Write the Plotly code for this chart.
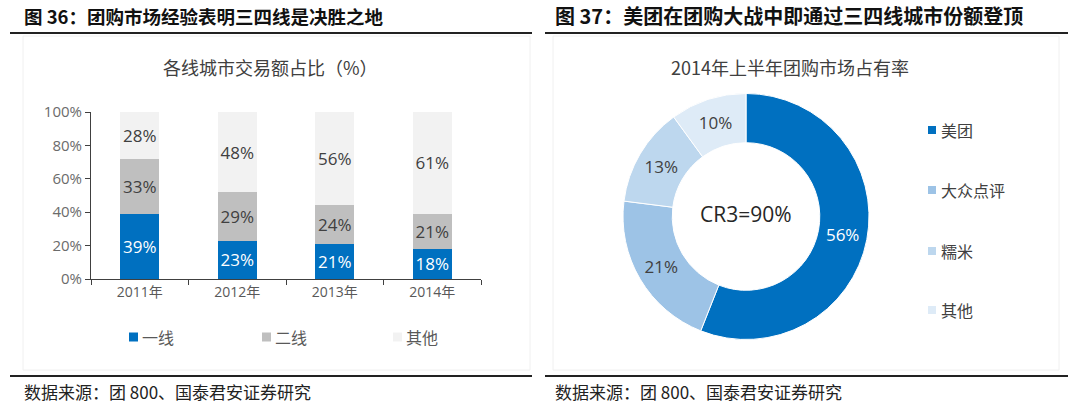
import plotly.graph_objects as go

# ---- data ----
years = ["2011年", "2012年", "2013年", "2014年"]
tier1 = [39, 23, 21, 18]
tier2 = [33, 29, 24, 21]
others = [28, 48, 56, 61]
bar_names = ["一线", "二线", "其他"]
bar_colors = ["#0070C0", "#BFBFBF", "#F2F2F2"]
bar_text_colors = ["#FFFFFF", "#404040", "#404040"]

pie_labels = ["美团", "大众点评", "糯米", "其他"]
pie_values = [56, 21, 13, 10]
pie_colors = ["#0070C0", "#9DC3E6", "#BDD7EE", "#DEEBF7"]
pie_text_colors = ["#FFFFFF", "#404040", "#404040", "#404040"]

title_left = "图 36：团购市场经验表明三四线是决胜之地"
title_right = "图 37：美团在团购大战中即通过三四线城市份额登顶"
sub_left = "各线城市交易额占比（%）"
sub_right = "2014年上半年团购市场占有率"
center_text = "CR3=90%"
source = "数据来源：团 800、国泰君安证券研究"

W, H = 1080, 414
FONT = "Open Sans, Noto Sans CJK SC"
CJK = "Noto Sans CJK SC"

def px(x):
    return x / W

def py(y):
    return 1 - y / H

fig = go.Figure()

for name, vals, col, tcol in zip(bar_names, [tier1, tier2, others], bar_colors, bar_text_colors):
    fig.add_trace(go.Bar(
        x=years, y=vals, name=name, marker=dict(color=col, line=dict(width=0)),
        text=[f"{v}%" for v in vals], textposition="inside", insidetextanchor="middle",
        textangle=0, constraintext="none",
        textfont=dict(color=tcol, size=17, family=FONT), width=0.4,
        showlegend=False, xaxis="x", yaxis="y", cliponaxis=False,
    ))

fig.add_trace(go.Pie(
    labels=pie_labels, values=pie_values, hole=0.6, sort=False, direction="clockwise",
    marker=dict(colors=pie_colors, line=dict(color="white", width=1)),
    texttemplate="%{value}%", textposition="inside", insidetextorientation="horizontal",
    textfont=dict(color=pie_text_colors, size=17, family=FONT),
    domain=dict(x=[px(623), px(869)], y=[py(340), py(93)]),
    showlegend=False, automargin=False,
))

fig.update_layout(
    template="none",
    width=W, height=H, margin=dict(l=0, r=0, t=0, b=0, pad=0, autoexpand=False),
    paper_bgcolor="white", plot_bgcolor="white", showlegend=False,
    barmode="stack", barnorm="percent",
    font=dict(family=FONT, color="#595959"),
    xaxis=dict(domain=[px(91), px(481)], type="category", showline=True, linecolor="#404040",
               linewidth=1, ticks="outside", tickson="boundaries", ticklen=5, tickcolor="#404040",
               tickfont=dict(size=14, color="#595959", family=FONT), showgrid=False,
               automargin=False, zeroline=False),
    yaxis=dict(domain=[py(279), py(112)], range=[0, 100], dtick=20, ticksuffix="%",
               showline=True, linecolor="#404040", linewidth=1, ticks="outside", ticklen=5,
               tickcolor="#404040", tickfont=dict(size=15, color="#6b6b6b", family=FONT),
               showgrid=False, zeroline=False, automargin=False),
)

shapes = []
annotations = []
# panel boxes (faint)
shapes.append(dict(type="rect", xref="paper", yref="paper", x0=px(23), x1=px(530), y0=py(370), y1=py(36),
                   line=dict(color="#F0F0F0", width=1)))
shapes.append(dict(type="rect", xref="paper", yref="paper", x0=px(553), x1=px(1059), y0=py(370), y1=py(36),
                   line=dict(color="#F0F0F0", width=1)))
# rules
for x0, x1 in [(10, 532), (545, 1068)]:
    for y in (33, 376):
        shapes.append(dict(type="line", xref="paper", yref="paper", x0=px(x0), x1=px(x1), y0=py(y), y1=py(y),
                           line=dict(color="#222222", width=2)))

# titles
annotations.append(dict(text=f"<b>{title_left}</b>", x=px(22), y=py(16), xref="paper", yref="paper",
                        xanchor="left", yanchor="middle", showarrow=False,
                        font=dict(family=CJK, size=18.5, color="#111111")))
annotations.append(dict(text=f"<b>{title_right}</b>", x=px(553), y=py(16), xref="paper", yref="paper",
                        xanchor="left", yanchor="middle", showarrow=False,
                        font=dict(family=CJK, size=20, color="#111111")))
annotations.append(dict(text=sub_left, x=px(270), y=py(67), xref="paper", yref="paper",
                        xanchor="center", yanchor="middle", showarrow=False,
                        font=dict(family=CJK, size=18, color="#404040")))
annotations.append(dict(text=sub_right, x=px(790), y=py(67), xref="paper", yref="paper",
                        xanchor="center", yanchor="middle", showarrow=False,
                        font=dict(family=CJK, size=18, color="#404040")))
annotations.append(dict(text=center_text, x=px(746), y=py(214), xref="paper", yref="paper",
                        xanchor="center", yanchor="middle", showarrow=False,
                        font=dict(family=FONT, size=21, color="#262626")))
for x in (22, 553):
    annotations.append(dict(text=source, x=px(x), y=py(391), xref="paper", yref="paper",
                            xanchor="left", yanchor="middle", showarrow=False,
                            font=dict(family=CJK, size=17, color="#222222")))

# bar legend
for name, col, sx in zip(bar_names, bar_colors, [129, 262, 393]):
    shapes.append(dict(type="rect", xref="paper", yref="paper", x0=px(sx), x1=px(sx + 9),
                       y0=py(341.5), y1=py(332.5), fillcolor=col, line=dict(width=0)))
    annotations.append(dict(text=name, x=px(sx + 11), y=py(337), xref="paper", yref="paper",
                            xanchor="left", yanchor="middle", showarrow=False,
                            font=dict(family=CJK, size=16, color="#595959")))

# pie legend
for name, col, cy in zip(pie_labels, pie_colors, [130, 190, 251, 310]):
    shapes.append(dict(type="rect", xref="paper", yref="paper", x0=px(928), x1=px(936),
                       y0=py(cy + 4), y1=py(cy - 4), fillcolor=col, line=dict(width=0)))
    annotations.append(dict(text=name, x=px(939), y=py(cy), xref="paper", yref="paper",
                            xanchor="left", yanchor="middle", showarrow=False,
                            font=dict(family=CJK, size=16, color="#404040")))

fig.update_layout(shapes=shapes, annotations=annotations)
fig.write_html(
    "out.html",
    config={"displayModeBar": False, "staticPlot": True},
    post_script="document.body.style.margin='0px';document.body.style.overflow='hidden';",
)
